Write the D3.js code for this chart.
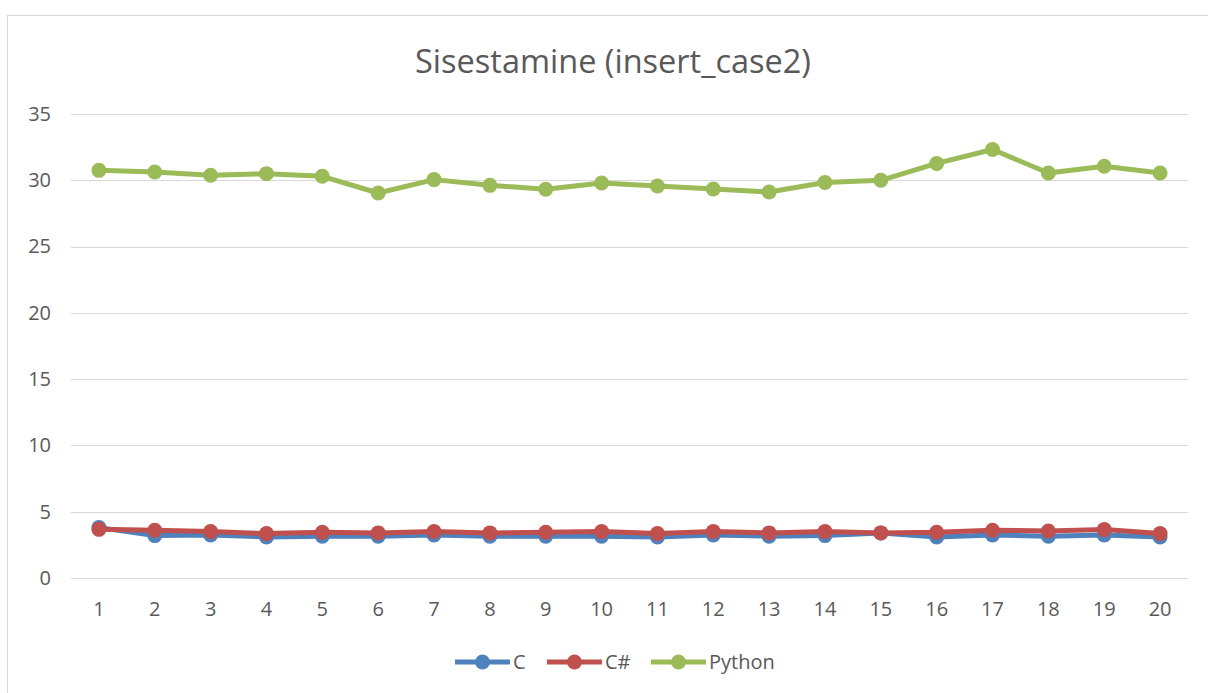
<!DOCTYPE html>
<html><head><meta charset="utf-8">
<script src="https://cdn.jsdelivr.net/npm/d3@7/dist/d3.min.js"></script>
<style>body{margin:0;background:#fff;}svg{display:block;font-family:"Open Sans",sans-serif;}</style>
</head><body>
<script>
const categories = ["1","2","3","4","5","6","7","8","9","10","11","12","13","14","15","16","17","18","19","20"];
const seriesC = [3.8,3.2,3.25,3.1,3.15,3.15,3.25,3.15,3.15,3.15,3.1,3.25,3.15,3.2,3.4,3.1,3.25,3.15,3.25,3.1];
const seriesCSharp = [3.67,3.6,3.5,3.35,3.45,3.4,3.5,3.4,3.45,3.5,3.35,3.5,3.4,3.5,3.4,3.45,3.6,3.55,3.65,3.35];
const seriesPython = [30.75,30.63,30.38,30.5,30.3,29.04,30.05,29.62,29.32,29.8,29.57,29.34,29.12,29.83,30.0,31.27,32.32,30.55,31.06,30.55];
const yTicks = [0,5,10,15,20,25,30,35];
const seriesNames = ["C","C#","Python"];
const colors = ["#4f81bd","#c0504d","#9bbb59"];
const title = "Sisestamine (insert_case2)";

const W = 1208, H = 693;
const svg = d3.select("body").append("svg").attr("width", W).attr("height", H);

// chart border
svg.append("rect").attr("x", 7.5).attr("y", 15.5).attr("width", W + 10).attr("height", H + 10)
  .attr("fill", "#fff").attr("stroke", "#d9d9d9").attr("stroke-width", 1);

const mLeft = 71, mRight = 1188, mTop = 114, mBottom = 578;
const x = d3.scaleBand().domain(categories).range([mLeft, mRight]);
const y = d3.scaleLinear().domain([0, 35]).range([mBottom, mTop]);

// gridlines
svg.append("g").selectAll("line").data(yTicks).join("line")
  .attr("x1", mLeft).attr("x2", mRight)
  .attr("y1", d => Math.round(y(d)) + 0.5).attr("y2", d => Math.round(y(d)) + 0.5)
  .attr("stroke", "#d9d9d9").attr("stroke-width", 1);

// y axis labels
const yAxis = d3.axisLeft(y).tickValues(yTicks).tickSize(0).tickPadding(20);
const gy = svg.append("g").attr("transform", `translate(${mLeft},0)`).call(yAxis);
gy.select(".domain").remove();
gy.selectAll("text").attr("fill", "#595959").style("font-size", "20px").style("font-family", "'Open Sans',sans-serif");

// x axis labels
const xAxis = d3.axisBottom(x).tickSize(0).tickPadding(24);
const gx = svg.append("g").attr("transform", `translate(0,${mBottom})`).call(xAxis);
gx.select(".domain").remove();
gx.selectAll("text").attr("fill", "#595959").style("font-size", "20px").style("font-family", "'Open Sans',sans-serif");

// title
svg.append("text").attr("x", 613).attr("y", 73).attr("text-anchor", "middle")
  .attr("fill", "#595959").style("font-size", "32.5px").text(title);

const allSeries = [seriesC, seriesCSharp, seriesPython];
const line = d3.line().x((d, i) => x(categories[i]) + x.bandwidth() / 2).y(d => y(d));

[2, 0, 1].forEach(k => {
  const g = svg.append("g");
  g.append("path").datum(allSeries[k]).attr("d", line)
    .attr("fill", "none").attr("stroke", colors[k]).attr("stroke-width", 5).attr("stroke-linejoin", "round");
  g.selectAll("circle").data(allSeries[k]).join("circle")
    .attr("cx", (d, i) => x(categories[i]) + x.bandwidth() / 2).attr("cy", d => y(d))
    .attr("r", 7.5).attr("fill", colors[k]);
});

// legend
const legendX = [455, 547, 651];
const legendY = 662;
seriesNames.forEach((name, k) => {
  const g = svg.append("g").attr("transform", `translate(${legendX[k]},${legendY})`);
  g.append("line").attr("x1", 0).attr("x2", 55).attr("y1", 0).attr("y2", 0)
    .attr("stroke", colors[k]).attr("stroke-width", 5);
  g.append("circle").attr("cx", 27.5).attr("cy", 0).attr("r", 7.5).attr("fill", colors[k]);
  g.append("text").attr("x", 58).attr("y", 0).attr("dy", "0.35em")
    .attr("fill", "#595959").style("font-size", "20px").text(name);
});
</script>
</body></html>
